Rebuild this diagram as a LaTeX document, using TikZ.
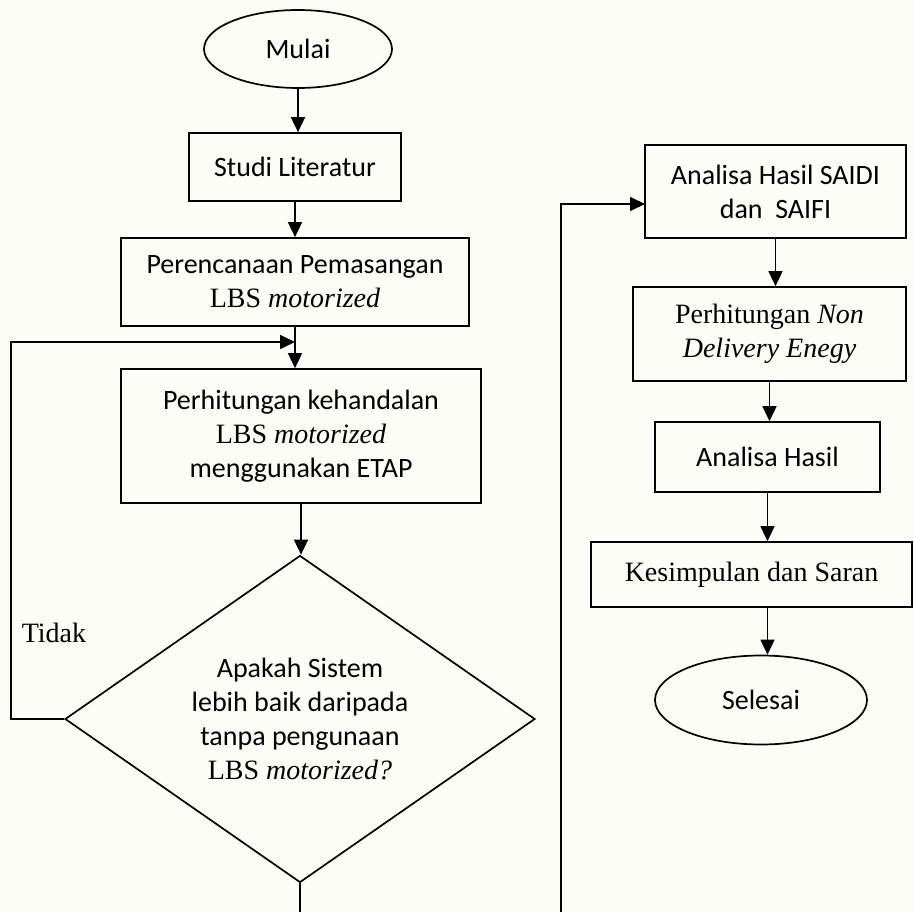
\documentclass[tikz,border=0pt]{standalone}
\usepackage{fontspec}
\setmainfont{Carlito}
\newfontfamily\tnrfont{Liberation Serif}
\newcommand\tmsf{\tnrfont\fontsize{28}{34}\selectfont}
\usetikzlibrary{shapes.geometric,arrows.meta}
\definecolor{bgc}{RGB}{253,253,248}
\begin{document}
\begin{tikzpicture}[x=1pt,y=-1pt,
  box/.style={draw,line width=1.7pt,rectangle,inner sep=0pt,align=center,font=\fontsize{28}{34}\selectfont},
  oval/.style={draw,line width=1.7pt,ellipse,inner sep=0pt,font=\fontsize{28}{34}\selectfont},
  dec/.style={draw,line width=1.7pt,diamond,aspect=1.44,inner sep=0pt,align=center,font=\fontsize{28}{34}\selectfont},
  arr/.style={line width=1.7pt,-{Triangle[length=15pt,width=14pt]}},
  ln/.style={line width=1.7pt}]
\fill[bgc] (0,0) rectangle (914,912);
\useasboundingbox (0,0) rectangle (914,912);

% left column
\node[oval,minimum width=188pt,minimum height=78pt] (mulai) at (298,49) {Mulai};
\node[box,minimum width=212pt,minimum height=68pt] (studi) at (295,167) {Studi Literatur};
\node[box,minimum width=348pt,minimum height=88pt] (peren) at (295,282) {Perencanaan Pemasangan\\{\tmsf LBS \textit{motorized}}};
\node[box,minimum width=360pt,minimum height=134pt] (perh) at (301,436) {Perhitungan kehandalan\\{\tmsf LBS \textit{motorized}}\\menggunakan ETAP};
\node[dec,minimum width=470pt,minimum height=327pt] (dec) at (300,719) {Apakah Sistem\\lebih baik daripada\\tanpa pengunaan\\{\tmsf LBS \textit{motorized?}}};
\node[font=\tmsf] (tidak) at (54,633) {Tidak};

% right column
\node[box,minimum width=261pt,minimum height=93pt] (saidi) at (775.5,191.5) {Analisa Hasil SAIDI\\dan~ SAIFI};
\node[box,minimum width=273pt,minimum height=94pt,font=\tmsf] (nde) at (769.5,334) {Perhitungan \textit{Non}\\\textit{Delivery Enegy}};
\node[box,minimum width=225pt,minimum height=70pt] (ana) at (767.5,457) {Analisa Hasil};
\node[box,minimum width=321pt,minimum height=65pt,font=\tmsf] (kes) at (751.5,574.5) {Kesimpulan dan Saran};
\node[oval,minimum width=212pt,minimum height=89pt] (sel) at (761,700) {Selesai};

% connectors left
\draw[arr] (mulai.south) -- (mulai.south |- studi.north);
\draw[arr] (studi.south) -- (studi.south |- peren.north);
\draw[arr] (peren.south) -- (peren.south |- perh.north);
\coordinate (join) at (295,342);
\draw[arr] (dec.west) -- ++(-53,0) |- (join);
\draw[arr] (perh.south) -- (perh.south |- dec.north);
\coordinate (botL) at (300,912);
\draw[ln] (dec.south) -- (botL);

% connectors right
\coordinate (botR) at (561,912);
\coordinate (saidiIn) at (645,204);
\draw[arr] (botR) |- (saidiIn);
\draw[arr] (saidi.south) -- (saidi.south |- nde.north);
\draw[arr] (nde.south) -- (nde.south |- ana.north);
\draw[arr] (ana.south) -- (ana.south |- kes.north);
\draw[arr] (ana.south |- kes.south) -- (ana.south |- sel.north);
\end{tikzpicture}
\end{document}
